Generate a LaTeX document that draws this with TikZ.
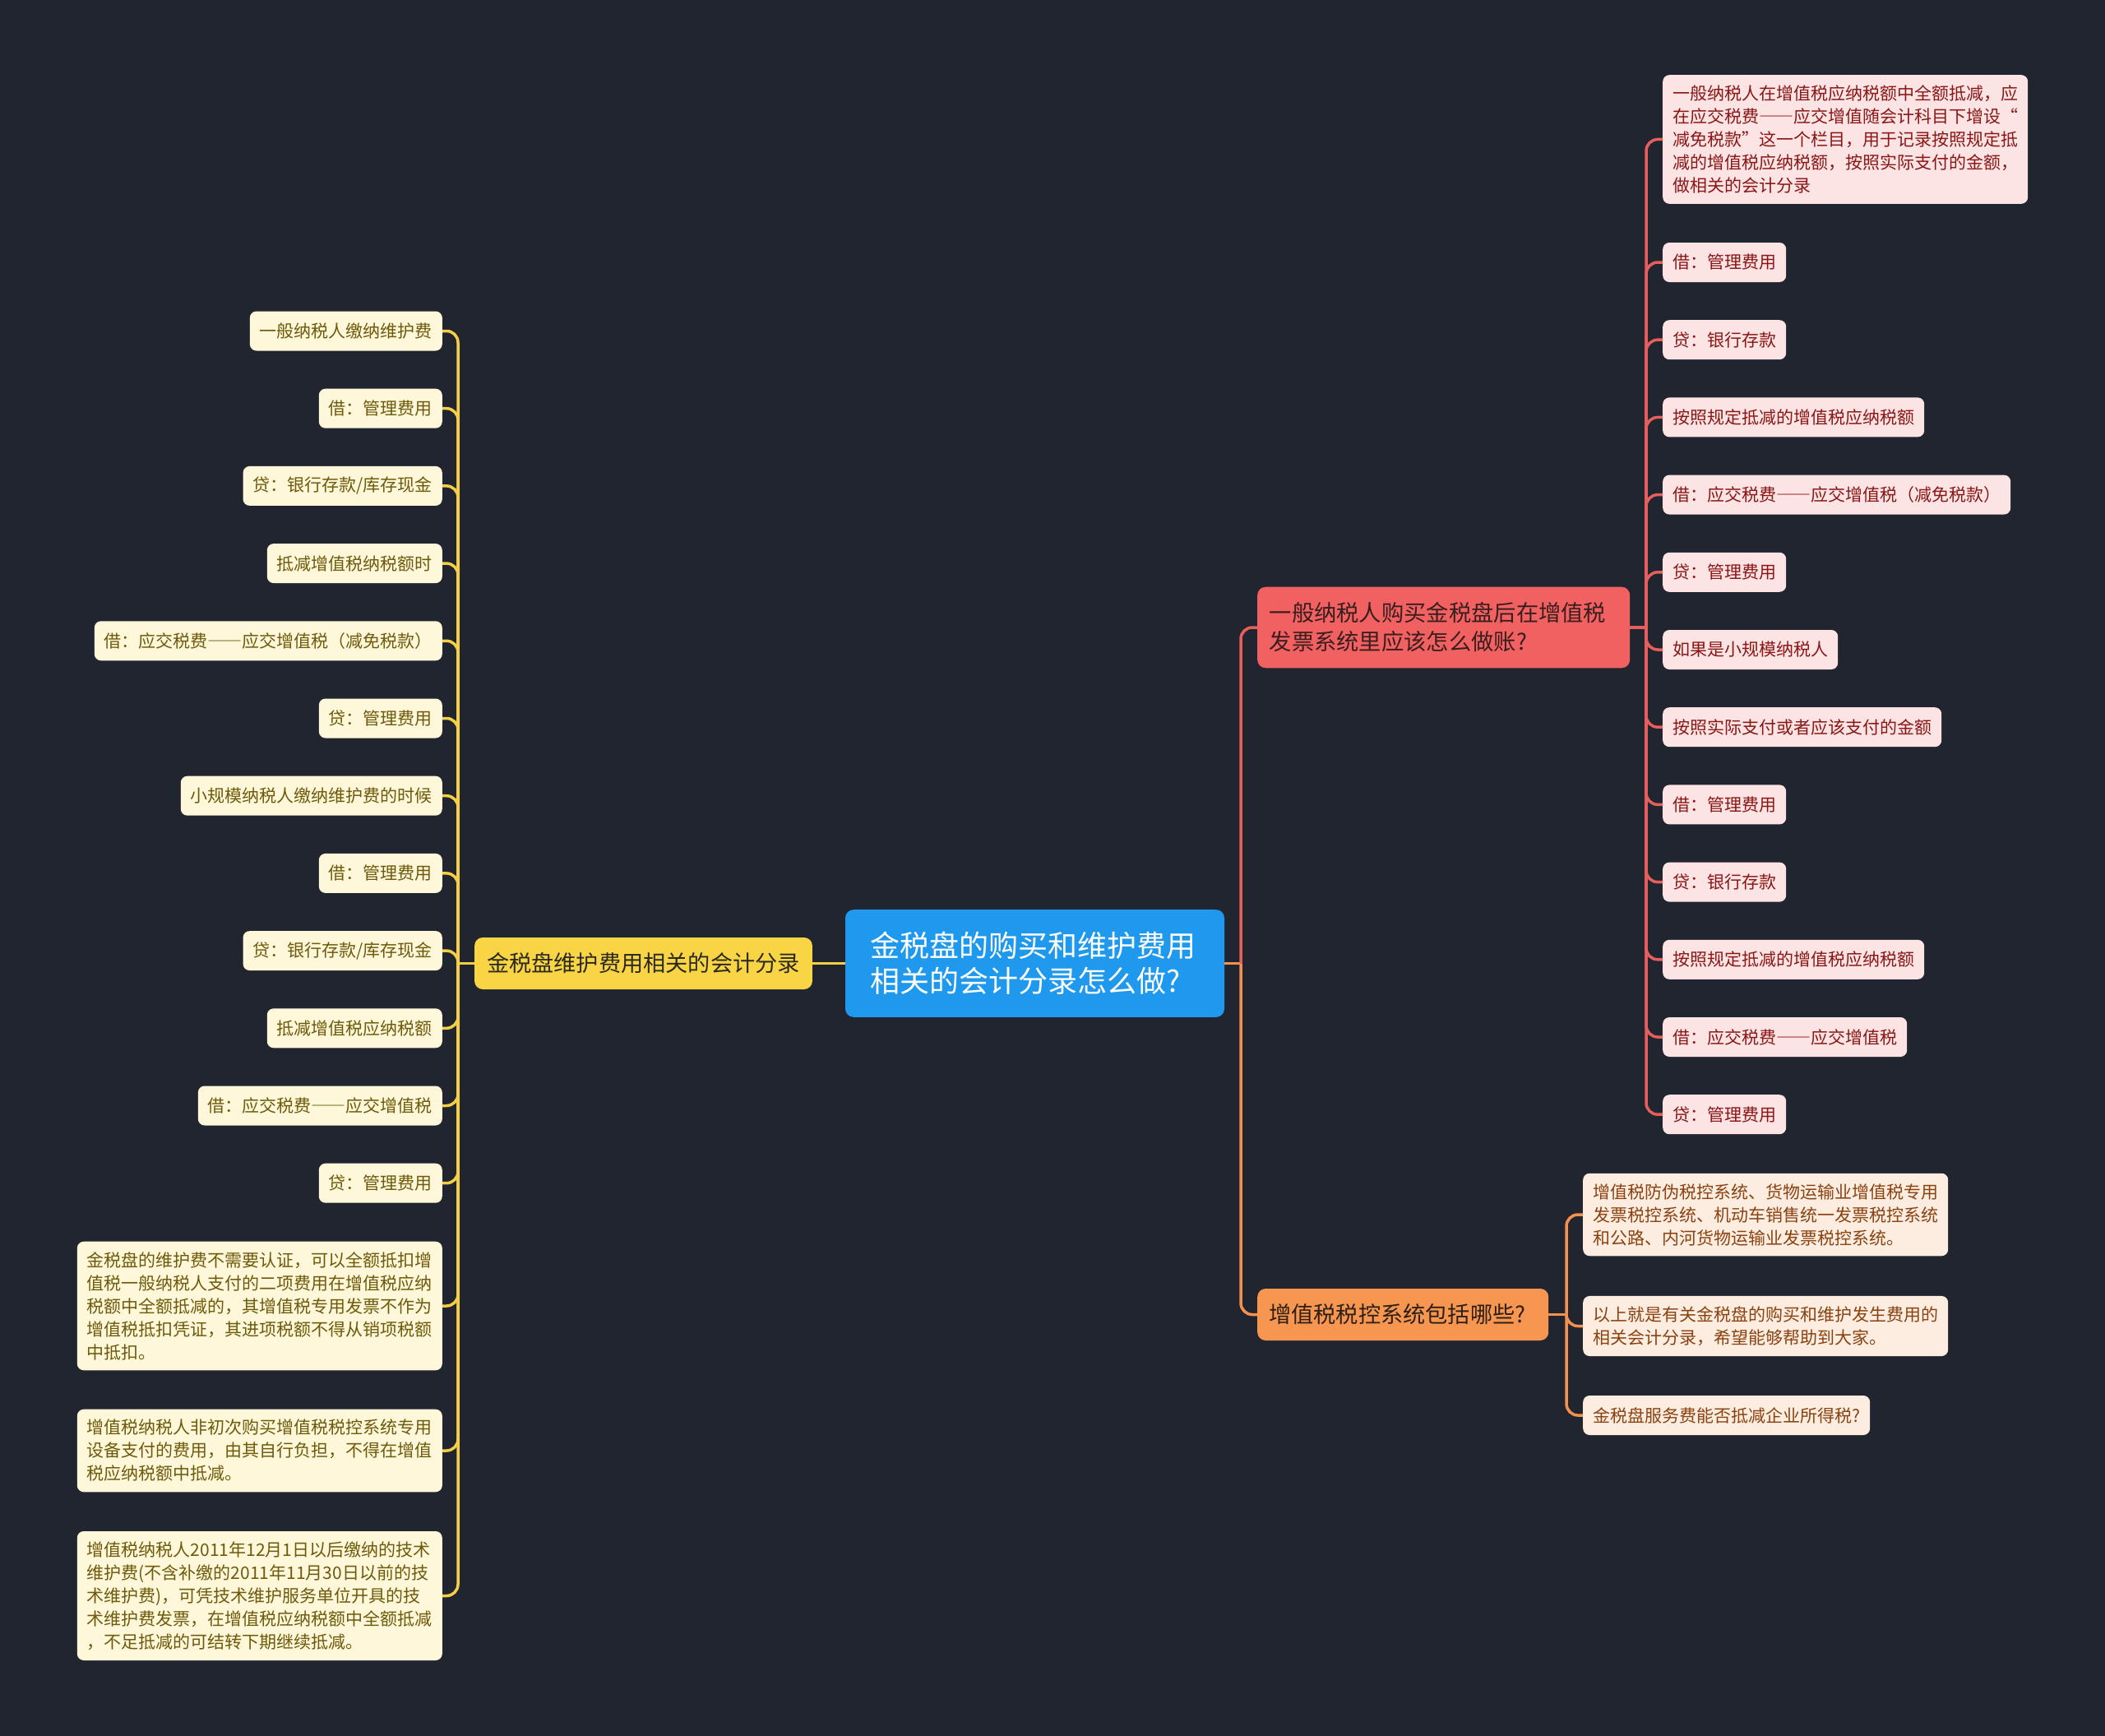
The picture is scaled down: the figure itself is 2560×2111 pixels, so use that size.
\documentclass[tikz,border=0pt]{standalone}
\usepackage{fontspec}
\setmainfont{Noto Sans CJK SC}
\newcommand\fwdash{{\addfontfeature{RawFeature=+fwid}——}}
\definecolor{bg}{HTML}{21252F}
\definecolor{rootc}{HTML}{1E99EE}
\definecolor{redm}{HTML}{F26161}
\definecolor{redmt}{HTML}{3A1E1E}
\definecolor{yelm}{HTML}{F9D546}
\definecolor{yelmt}{HTML}{2B2A1E}
\definecolor{orm}{HTML}{F79650}
\definecolor{ormt}{HTML}{2E2015}
\definecolor{lfill}{HTML}{FEF7DA}
\definecolor{ltext}{HTML}{6E5A0A}
\definecolor{rfill}{HTML}{FDE4E4}
\definecolor{rtext}{HTML}{8A1616}
\definecolor{ofill}{HTML}{FDEDE1}
\definecolor{otext}{HTML}{8A4210}
\definecolor{yline}{HTML}{F5CF45}
\definecolor{rline}{HTML}{E65F5C}
\definecolor{oline}{HTML}{F3924F}
\begin{document}
\begin{tikzpicture}[x=1pt,y=-1pt,
  leafbase/.style={rounded corners=8, inner ysep=0pt, inner xsep=12pt, minimum height=48pt, font=\fontsize{21}{28}\selectfont},
  multi/.style={align=left, inner ysep=12.5pt, minimum height=0pt},
  lleaf/.style={leafbase, fill=lfill, text=ltext, anchor=east},
  rleaf/.style={leafbase, fill=rfill, text=rtext, anchor=west},
  oleaf/.style={leafbase, fill=ofill, text=otext, anchor=west},
  ylink/.style={draw=yline, line width=3.5pt},
  rlink/.style={draw=rline, line width=3.5pt},
  olink/.style={draw=oline, line width=3.5pt},
  curvy/.style={rounded corners=14pt}
]
\fill[bg] (0,0) rectangle (2560,2111);
\useasboundingbox (0,0) rectangle (2560,2111);

% root
\node[fill=rootc, text=white, rounded corners=10, align=left, text width=400pt, inner xsep=30.5pt, inner ysep=27pt, font=\fontsize{36}{43}\selectfont] (root) at (1258.5,1171.5) {金税盘的购买和维护费用\\相关的会计分录怎么做?};

% main branches
\node[fill=yelm, text=yelmt, rounded corners=10, inner xsep=15pt, inner ysep=0pt, minimum height=63pt, font=\fontsize{27.2}{34}\selectfont] (ymain) at (782.5,1171.5) {金税盘维护费用相关的会计分录};
\node[fill=redm, text=redmt, rounded corners=10, align=left, text width=424pt, inner xsep=14.5pt, inner ysep=19pt, font=\fontsize{27.3}{35}\selectfont, anchor=west] (rmain) at (1529,763) {一般纳税人购买金税盘后在增值税\\发票系统里应该怎么做账?};
\node[fill=orm, text=ormt, rounded corners=10, align=left, text width=326pt, inner xsep=14pt, inner ysep=0pt, minimum height=63pt, font=\fontsize{27.2}{34}\selectfont, anchor=west] (omain) at (1529,1598.5) {增值税税控系统包括哪些?};

% left leaves
\node[lleaf] (L1) at (538,402.5) {一般纳税人缴纳维护费};
\node[lleaf] (L2) at (538,496.7) {借：管理费用};
\node[lleaf] (L3) at (538,590.9) {贷：银行存款/库存现金};
\node[lleaf] (L4) at (538,685.1) {抵减增值税纳税额时};
\node[lleaf] (L5) at (538,779.3) {借：应交税费\fwdash 应交增值税（减免税款）};
\node[lleaf] (L6) at (538,873.5) {贷：管理费用};
\node[lleaf] (L7) at (538,967.7) {小规模纳税人缴纳维护费的时候};
\node[lleaf] (L8) at (538,1061.9) {借：管理费用};
\node[lleaf] (L9) at (538,1156.1) {贷：银行存款/库存现金};
\node[lleaf] (L10) at (538,1250.3) {抵减增值税应纳税额};
\node[lleaf] (L11) at (538,1344.5) {借：应交税费\fwdash 应交增值税};
\node[lleaf] (L12) at (538,1438.7) {贷：管理费用};
\node[lleaf, multi] (L13) at (538,1588) {金税盘的维护费不需要认证，可以全额抵扣增\\值税一般纳税人支付的二项费用在增值税应纳\\税额中全额抵减的，其增值税专用发票不作为\\增值税抵扣凭证，其进项税额不得从销项税额\\中抵扣。};
\node[lleaf, multi] (L14) at (538,1764) {增值税纳税人非初次购买增值税税控系统专用\\设备支付的费用，由其自行负担，不得在增值\\税应纳税额中抵减。};
\node[lleaf, multi] (L15) at (538,1940.5) {增值税纳税人2011年12月1日以后缴纳的技术\\维护费(不含补缴的2011年11月30日以前的技\\术维护费)，可凭技术维护服务单位开具的技\\术维护费发票，在增值税应纳税额中全额抵减\\，不足抵减的可结转下期继续抵减。};

% right red leaves
\node[rleaf, multi] (R1) at (2022,169.5) {一般纳税人在增值税应纳税额中全额抵减，应\\在应交税费\fwdash 应交增值随会计科目下增设“\\减免税款”这一个栏目，用于记录按照规定抵\\减的增值税应纳税额，按照实际支付的金额，\\做相关的会计分录};
\node[rleaf] (R2) at (2022,319) {借：管理费用};
\node[rleaf] (R3) at (2022,413.2) {贷：银行存款};
\node[rleaf] (R4) at (2022,507.4) {按照规定抵减的增值税应纳税额};
\node[rleaf] (R5) at (2022,601.6) {借：应交税费\fwdash 应交增值税（减免税款）};
\node[rleaf] (R6) at (2022,695.8) {贷：管理费用};
\node[rleaf] (R7) at (2022,790) {如果是小规模纳税人};
\node[rleaf] (R8) at (2022,884.2) {按照实际支付或者应该支付的金额};
\node[rleaf] (R9) at (2022,978.4) {借：管理费用};
\node[rleaf] (R10) at (2022,1072.6) {贷：银行存款};
\node[rleaf] (R11) at (2022,1166.8) {按照规定抵减的增值税应纳税额};
\node[rleaf] (R12) at (2022,1261) {借：应交税费\fwdash 应交增值税};
\node[rleaf] (R13) at (2022,1355.2) {贷：管理费用};

% orange leaves
\node[oleaf, multi] (O1) at (1925,1477) {增值税防伪税控系统、货物运输业增值税专用\\发票税控系统、机动车销售统一发票税控系统\\和公路、内河货物运输业发票税控系统。};
\node[oleaf, multi] (O2) at (1925,1612.5) {以上就是有关金税盘的购买和维护发生费用的\\相关会计分录，希望能够帮助到大家。};
\node[oleaf] (O3) at (1925,1721) {金税盘服务费能否抵减企业所得税?};

% junction coordinates
\coordinate (LB) at (557,1171.5);
\coordinate (RJ) at (1509,1171.5);
\coordinate (RB) at (2002,763);
\coordinate (OB) at (1905,1598.5);

% connectors
\draw[ylink] (root.west) -- (ymain.east);
\draw[ylink] (ymain.west) -- (LB);
\foreach \n in {L1,L2,L3,L4,L5,L6,L7,L8,L9,L10,L11,L12,L13,L14,L15}
  \draw[ylink, curvy] (LB) |- (\n.east);

\draw[olink] (root.east) -- (RJ);
\draw[rlink, curvy] (RJ) |- (rmain.west);
\draw[olink, curvy] (RJ) |- (omain.west);

\draw[rlink] (rmain.east) -- (RB);
\foreach \n in {R1,R2,R3,R4,R5,R6,R7,R8,R9,R10,R11,R12,R13}
  \draw[rlink, curvy] (RB) |- (\n.west);

\draw[olink] (omain.east) -- (OB);
\foreach \n in {O1,O2,O3}
  \draw[olink, curvy] (OB) |- (\n.west);
\end{tikzpicture}
\end{document}
